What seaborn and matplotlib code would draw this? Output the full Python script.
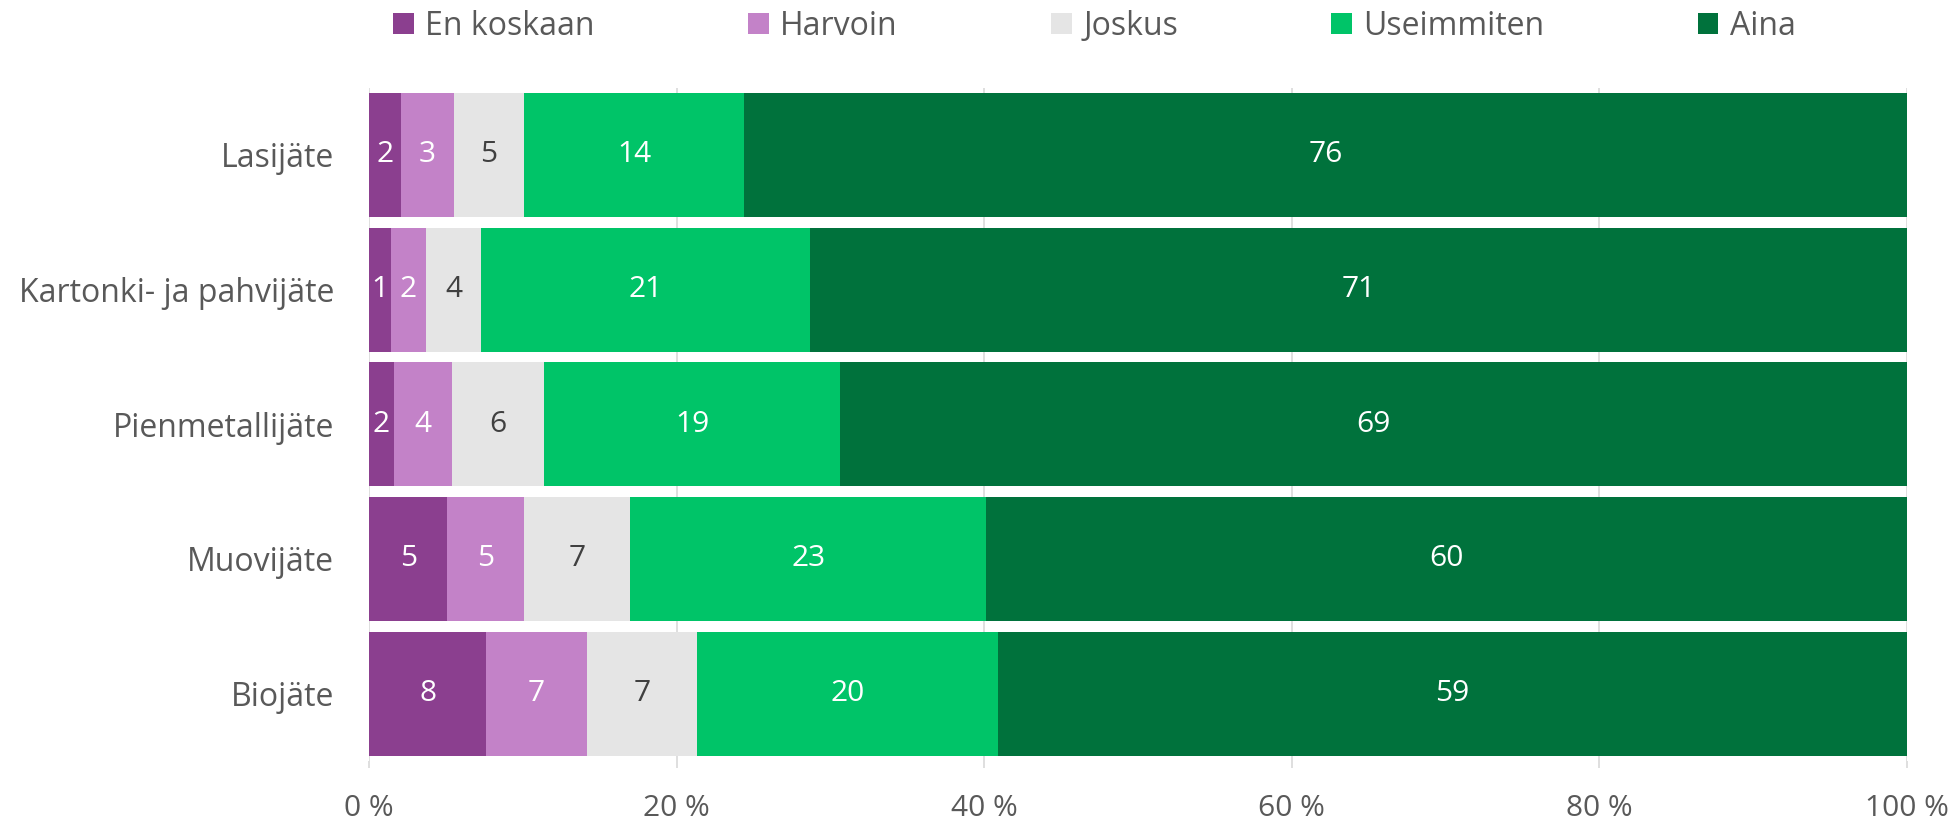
import matplotlib
matplotlib.use("Agg")
import matplotlib.pyplot as plt
import seaborn as sns
import numpy as np
from matplotlib.patches import Patch

# Share of respondents (%) sorting each waste type
categories = ["Lasijäte", "Kartonki- ja pahvijäte", "Pienmetallijäte", "Muovijäte", "Biojäte"]
series = ["En koskaan", "Harvoin", "Joskus", "Useimmiten", "Aina"]
en_koskaan = [2.1, 1.4, 1.6, 5.1, 7.6]
harvoin = [3.4, 2.3, 3.8, 5.0, 6.6]
joskus = [4.6, 3.6, 6.0, 6.9, 7.1]
useimmiten = [14.3, 21.4, 19.2, 23.1, 19.6]
aina = [75.6, 71.3, 69.4, 59.9, 59.1]
x_ticks = [0, 20, 40, 60, 80, 100]
x_tick_labels = ["0 %", "20 %", "40 %", "60 %", "80 %", "100 %"]

colors = ["#8B3F8F", "#C382C8", "#E5E5E5", "#00C468", "#00723C"]
label_colors = ["white", "white", "#404040", "white", "white"]

sns.set_theme(style="white")
plt.rcParams["font.family"] = ["Open Sans", "DejaVu Sans"]

values = np.array([en_koskaan, harvoin, joskus, useimmiten, aina])
cum = np.cumsum(values, axis=0)

fig = plt.figure(figsize=(19.59, 8.24), dpi=100)
ax = fig.add_axes([0.1884, 0.0765, 0.7849, 0.8173])

# Stacked bars: draw cumulative totals from the outermost layer inwards
for i in reversed(range(len(series))):
    sns.barplot(x=cum[i], y=categories, orient="y", color=colors[i],
                saturation=1, width=0.92, errorbar=None, ax=ax, zorder=2,
                linewidth=0, edgecolor="none")

# Value labels centred in each segment
for i in range(len(series)):
    left = cum[i] - values[i]
    for j, w in enumerate(values[i]):
        ax.text(left[j] + w / 2, j, f"{w:.0f}", ha="center", va="center",
                color=label_colors[i], fontsize=21.5, zorder=3)

ax.set_xlim(0, 100)
ax.set_ylim(len(categories) - 0.5, -0.5)
ax.set_xticks(x_ticks)
ax.set_xticklabels(x_tick_labels)
ax.set_xlabel("")
ax.set_ylabel("")
ax.grid(axis="x", color="#D9D9D9", linewidth=1.2, zorder=0)
ax.grid(axis="y", visible=False)
ax.set_axisbelow(True)
for s in ax.spines.values():
    s.set_visible(False)
ax.tick_params(axis="x", colors="#D9D9D9", length=5, width=1.2, pad=19,
               labelsize=21.5, labelcolor="#595959", bottom=True)
ax.tick_params(axis="y", length=0, pad=25, labelsize=23, labelcolor="#595959")

handles = [Patch(facecolor=c, edgecolor="none") for c in colors]
fig.legend(handles, series, loc="center", bbox_to_anchor=(0.5587, 0.968),
           ncol=5, frameon=False, handlelength=0.65, handleheight=0.65,
           handletextpad=0.35, columnspacing=4.8, fontsize=23,
           labelcolor="#595959")

fig.savefig("out.png", dpi=100)
